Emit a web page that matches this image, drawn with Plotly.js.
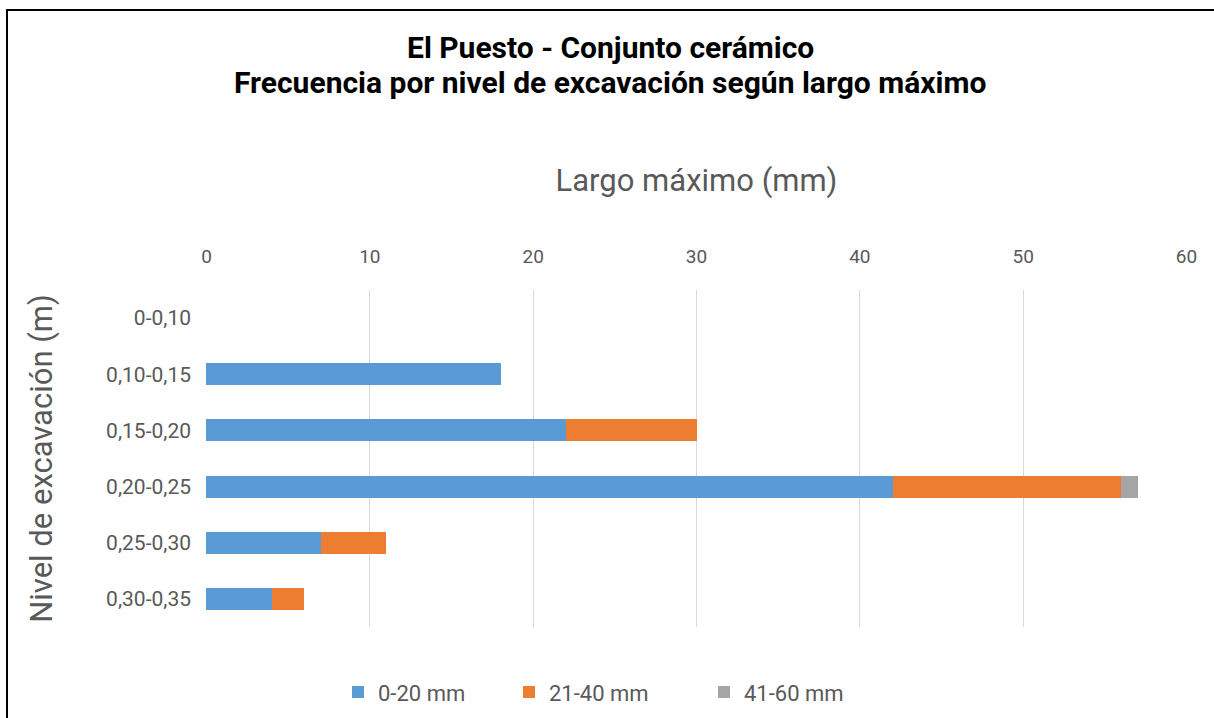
<!DOCTYPE html>
<html>
<head>
<meta charset="utf-8">
<script src="https://cdn.plot.ly/plotly-3.0.1.min.js"></script>
<style>
  html, body { margin: 0; padding: 0; background: #fff; }
  #frame { position: absolute; left: 6px; top: 9px; right: -4px; bottom: -4px; border-left: 2px solid #000; border-top: 2px solid #000; pointer-events: none; z-index: 10; }
  #chart { width: 1214px; height: 718px; }
</style>
</head>
<body>
<div id="frame"></div>
<div id="chart"></div>
<script>
const categories = ['0-0,10', '0,10-0,15', '0,15-0,20', '0,20-0,25', '0,25-0,30', '0,30-0,35'];
const seriesNames = ['0-20 mm', '21-40 mm', '41-60 mm'];
const s0_20 = [0, 18, 22, 42, 7, 4];
const s21_40 = [0, 0, 8, 14, 4, 2];
const s41_60 = [0, 0, 0, 1, 0, 0];
const xTicks = [0, 10, 20, 30, 40, 50, 60];
const colors = ['#5B9BD5', '#ED7D31', '#A5A5A5'];
const titleLine1 = 'El Puesto - Conjunto cerámico';
const titleLine2 = 'Frecuencia por nivel de excavación según largo máximo';

const seriesValues = [s0_20, s21_40, s41_60];
const legendIds = ['legend', 'legend2', 'legend3'];
const legendLeftPx = [338, 509, 704];

const traces = seriesValues.map((vals, i) => ({
  type: 'bar',
  orientation: 'h',
  name: seriesNames[i],
  y: categories,
  x: vals,
  legend: legendIds[i],
  marker: { color: colors[i], line: { width: 0 } },
  hoverinfo: 'x+y+name'
}));

const layout = {
  width: 1214,
  height: 718,
  paper_bgcolor: '#ffffff',
  plot_bgcolor: '#ffffff',
  font: { family: 'Roboto, "Open Sans", sans-serif', color: '#595959' },
  barmode: 'stack',
  bargap: 0.61,
  margin: { l: 206, r: 27, t: 290, b: 91, pad: 0 },
  title: {
    text: '<b>' + titleLine1 + '</b>',
    font: { family: 'Roboto, sans-serif', size: 30, color: '#000000' },
    x: 0.503, xref: 'container', xanchor: 'center',
    y: 1 - 47 / 718, yref: 'container', yanchor: 'middle'
  },
  annotations: [{
    text: '<b>' + titleLine2 + '</b>',
    font: { family: 'Roboto, sans-serif', size: 30, color: '#000000' },
    xref: 'paper', yref: 'paper',
    x: (610 - 206) / (1187 - 206), xanchor: 'center',
    y: 1 + (290 - 82) / (627 - 290), yanchor: 'middle',
    showarrow: false
  }],
  xaxis: {
    side: 'top',
    range: [-0.03, 60.03],
    tickvals: xTicks,
    ticktext: xTicks.map(String),
    showgrid: true,
    gridcolor: '#d9d9d9',
    gridwidth: 1,
    zeroline: false,
    showline: false,
    ticks: '',
    ticklabelstandoff: 22,
    tickfont: { size: 19, color: '#595959' },
    title: { text: 'Largo máximo (mm)', font: { size: 31, color: '#595959' }, standoff: 44 },
    fixedrange: true
  },
  yaxis: {
    type: 'category',
    autorange: 'reversed',
    showgrid: false,
    zeroline: false,
    showline: false,
    ticks: '',
    ticklabelstandoff: 14,
    tickfont: { size: 21, color: '#595959' },
    title: { text: 'Nivel de excavación (m)', font: { size: 31, color: '#595959' }, standoff: 44 },
    fixedrange: true
  },
  showlegend: true
};

legendIds.forEach((id, i) => {
  layout[id] = {
    orientation: 'h',
    x: legendLeftPx[i] / 1214, xanchor: 'left', xref: 'container',
    y: 0.036, yanchor: 'middle', yref: 'container',
    font: { size: 22, color: '#595959' },
    bgcolor: 'rgba(0,0,0,0)'
  };
});

Plotly.newPlot('chart', traces, layout, { displayModeBar: false });
</script>
</body>
</html>
